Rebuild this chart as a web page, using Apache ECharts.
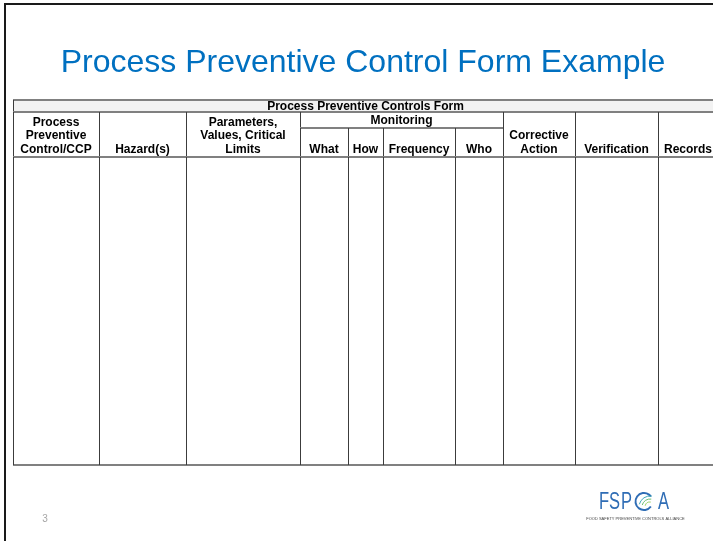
<!DOCTYPE html>
<html>
<head>
<meta charset="utf-8">
<script src="https://cdn.jsdelivr.net/npm/echarts@6/dist/echarts.min.js"></script>
<style>
html,body{margin:0;padding:0;background:#fff;}
#chart{width:713px;height:541px;}
</style>
</head>
<body>
<div id="chart"></div>
<script>
// ---- content ----
const slideTitle = 'Process Preventive Control Form Example';
const formTitle = 'Process Preventive Controls Form';
const groupHeader = 'Monitoring';
const columnHeaders = ['Process\nPreventive\nControl/CCP', 'Hazard(s)', 'Parameters,\nValues, Critical\nLimits',
  'What', 'How', 'Frequency', 'Who', 'Corrective\nAction', 'Verification', 'Records'];
const monitoringColumns = [3, 4, 5, 6];       // columns grouped under "Monitoring"
const columnWidths = [86, 87, 114, 48, 35, 72, 48, 72, 83, 60];  // table units
const rowHeights = [12, 16, 29, 308];         // form title, group row, sub-header row, empty body
const pageNumber = '3';

// ---- structure built from the arrays ----
const colEdges = [0];
columnWidths.forEach(w => colEdges.push(colEdges[colEdges.length - 1] + w));
const rowEdges = [0];
rowHeights.forEach(h => rowEdges.push(rowEdges[rowEdges.length - 1] + h));
const totalW = colEdges[colEdges.length - 1];
const totalH = rowEdges[rowEdges.length - 1];
const visibleW = 700;   // part of the table that fits on the slide

const cells = [];
cells.push({x0: 0, x1: totalW, y0: rowEdges[0], y1: rowEdges[1], text: formTitle, kind: 'band'});
const gFirst = monitoringColumns[0], gLast = monitoringColumns[monitoringColumns.length - 1];
cells.push({x0: colEdges[gFirst], x1: colEdges[gLast + 1], y0: rowEdges[1], y1: rowEdges[2], text: groupHeader, kind: 'group'});
columnHeaders.forEach((h, i) => {
  const inGroup = monitoringColumns.indexOf(i) >= 0;
  cells.push({x0: colEdges[i], x1: colEdges[i + 1], y0: inGroup ? rowEdges[2] : rowEdges[1], y1: rowEdges[3], text: h, kind: 'head'});
  cells.push({x0: colEdges[i], x1: colEdges[i + 1], y0: rowEdges[3], y1: rowEdges[4], text: '', kind: 'body'});
});
const cellData = cells.map(c => [c.x0, c.x1, c.y0, c.y1]);

const FONT = '"Liberation Sans", Arial, Helvetica, sans-serif';

function cellRect(api) {
  const p0 = api.coord([api.value(0), api.value(2)]);
  const p1 = api.coord([api.value(1), api.value(3)]);
  return {x: p0[0], y: p0[1], w: p1[0] - p0[0], h: p1[1] - p0[1]};
}

function renderFill(params, api) {
  const c = cells[params.dataIndex];
  const r = cellRect(api);
  const children = [{
    type: 'rect',
    shape: {x: r.x, y: r.y, width: r.w, height: r.h},
    style: {fill: c.kind === 'band' ? '#f2f2f2' : '#ffffff'}
  }];
  if (c.text) {
    const head = c.kind === 'head';
    children.push({
      type: 'text',
      style: {
        text: c.text,
        x: r.x + r.w / 2,
        y: head ? r.y + r.h - 1 : r.y + r.h / 2 + 0.5,
        align: 'center',
        verticalAlign: head ? 'bottom' : 'middle',
        fontSize: 12, fontWeight: 'bold', fontFamily: FONT,
        lineHeight: 13.5,
        fill: '#000'
      }
    });
  }
  return {type: 'group', children: children};
}

function renderLines(params, api) {
  const r = cellRect(api);
  const hs = {stroke: '#808080', lineWidth: 2};
  const vs = {stroke: '#3c3c3c', lineWidth: 1};
  const xl = Math.round(r.x) + 0.5, xr = Math.round(r.x + r.w) + 0.5;
  const yt = Math.round(r.y), yb = Math.round(r.y + r.h);
  return {type: 'group', children: [
    {type: 'line', shape: {x1: r.x, y1: yt, x2: r.x + r.w, y2: yt}, style: hs},
    {type: 'line', shape: {x1: r.x, y1: yb, x2: r.x + r.w, y2: yb}, style: hs},
    {type: 'line', shape: {x1: xl, y1: r.y, x2: xl, y2: r.y + r.h}, style: vs},
    {type: 'line', shape: {x1: xr, y1: r.y, x2: xr, y2: r.y + r.h}, style: vs}
  ]};
}

const chart = echarts.init(document.getElementById('chart'), null, {renderer: 'canvas'});
chart.setOption({
  animation: false,
  backgroundColor: '#ffffff',
  grid: {left: 13, top: 100, width: visibleW, height: totalH, containLabel: false, outerBoundsMode: 'none'},
  xAxis: {type: 'value', min: 0, max: visibleW, show: false},
  yAxis: {type: 'value', min: 0, max: totalH, inverse: true, show: false},
  series: [
    {type: 'custom', renderItem: renderFill, data: cellData, encode: {x: [0, 1], y: [2, 3]}, clip: false, silent: true, z: 2},
    {type: 'custom', renderItem: renderLines, data: cellData, encode: {x: [0, 1], y: [2, 3]}, clip: false, silent: true, z: 3}
  ],
  graphic: [
    // slide frame
    {type: 'line', shape: {x1: 4, y1: 4, x2: 713, y2: 4}, style: {stroke: '#1a1a1a', lineWidth: 2}, z: 10},
    {type: 'line', shape: {x1: 5, y1: 3, x2: 5, y2: 541}, style: {stroke: '#1a1a1a', lineWidth: 2}, z: 10},
    // slide title
    {type: 'text', x: 363, y: 63, style: {text: slideTitle, align: 'center', verticalAlign: 'middle',
      fontSize: 32, fontFamily: FONT, fill: '#0070c0'}, z: 10},
    // page number
    {type: 'text', x: 45, y: 519, style: {text: pageNumber, align: 'center', verticalAlign: 'middle',
      fontSize: 10, fontFamily: FONT, fill: '#a6a6a6'}, z: 10},
    // FSPCA logo
    {type: 'group', z: 10, children: [
      {type: 'text', x: 599, y: 502.5, scaleX: 0.72, style: {text: 'FS', verticalAlign: 'middle',
        fontSize: 23, fontFamily: FONT, fill: '#2f6db5'}},
      {type: 'text', x: 621, y: 502.5, scaleX: 0.72, style: {text: 'P', verticalAlign: 'middle',
        fontSize: 23, fontFamily: FONT, fill: '#2f6db5'}},
      {type: 'arc', shape: {cx: 644, cy: 501.5, r: 8.5, startAngle: Math.PI * 0.2, endAngle: Math.PI * 1.8, clockwise: true},
        style: {stroke: '#2f6db5', lineWidth: 2, fill: null}},
      {type: 'arc', shape: {cx: 650, cy: 507, r: 11, startAngle: Math.PI * 1.08, endAngle: Math.PI * 1.55, clockwise: true},
        style: {stroke: '#3fa7b7', lineWidth: 1, fill: null}},
      {type: 'arc', shape: {cx: 650, cy: 507, r: 8, startAngle: Math.PI * 1.08, endAngle: Math.PI * 1.55, clockwise: true},
        style: {stroke: '#6fbf73', lineWidth: 1, fill: null}},
      {type: 'arc', shape: {cx: 650, cy: 507, r: 5, startAngle: Math.PI * 1.08, endAngle: Math.PI * 1.55, clockwise: true},
        style: {stroke: '#9ed36a', lineWidth: 1, fill: null}},
      {type: 'text', x: 658, y: 502.5, scaleX: 0.72, style: {text: 'A', verticalAlign: 'middle',
        fontSize: 23, fontFamily: FONT, fill: '#2f6db5'}},
      {type: 'text', x: 635.5, y: 519, style: {text: 'FOOD SAFETY PREVENTIVE CONTROLS ALLIANCE', align: 'center',
        verticalAlign: 'middle', fontSize: 4, fontFamily: FONT, fill: '#444'}}
    ]}
  ]
});
</script>
</body>
</html>
